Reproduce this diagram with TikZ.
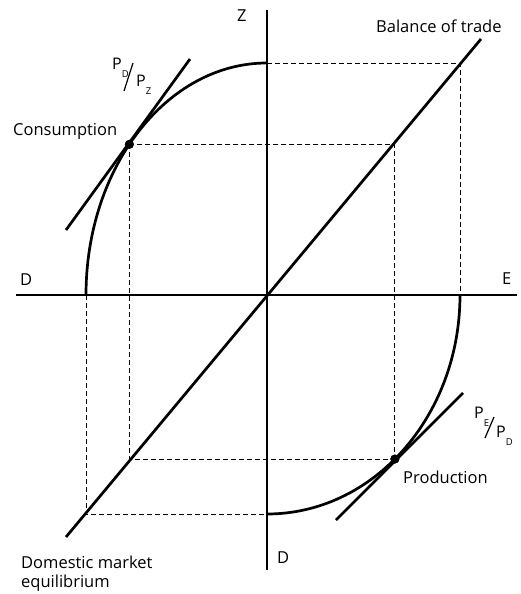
\documentclass[tikz,border=0pt]{standalone}
\usepackage{fontspec}
\setmainfont{Open Sans}
\newcommand\fsub[1]{\raisebox{-8pt}{\fontsize{9.5}{11}\selectfont #1}}
\begin{document}
\begin{tikzpicture}[x=1pt,y=1pt,
  axis/.style={line width=1.2pt},
  curve/.style={line width=2.7pt},
  guide/.style={line width=0.9pt, dash pattern=on 5pt off 3pt},
  lbl/.style={inner sep=0pt, font=\fontsize{16.5}{19}\selectfont},
  frac/.style={inner sep=0pt, font=\fontsize{16}{18}\selectfont},
  slash/.style={line width=1.2pt},
  dot/.style={circle, fill=black, inner sep=0pt, minimum size=9pt}]
\useasboundingbox (-267,-299) rectangle (254,295);
% key points
\coordinate (O) at (0,0);
\coordinate (ZT) at (0,285);
\coordinate (ZB) at (0,-275);
\coordinate (AL) at (-251,0);
\coordinate (AR) at (250,0);
\coordinate (CT) at (0,232);
\coordinate (CL) at (-181,0);
\coordinate (PR) at (193,0);
\coordinate (PB) at (0,-219);
\coordinate (Q1) at (193,232);
\coordinate (B1) at (-201,-242);
\coordinate (B2) at (214,256);
\coordinate (t1a) at (-201,65);
\coordinate (t1b) at (-77,236);
\coordinate (t2a) at (69,-225);
\coordinate (t2b) at (196,-98);
\coordinate (s1a) at (-143,204);
\coordinate (s1b) at (-134,232);
\coordinate (s2a) at (218,-143);
\coordinate (s2b) at (227,-122);
\node[dot] (C) at (139.5:181pt and 232pt) {};
\node[dot] (P) at (-48.5:193pt and 219pt) {};
% dashed guides
\draw[guide] (CT) -- (Q1) -- (PR);
\draw[guide] (C.center) -- (C.center -| P.center) -- (P.center);
\draw[guide] (C.center) -- (C.center |- P.center) -- (P.center);
\draw[guide] (CL) -- (CL |- PB) -- (PB);
% axes
\draw[axis] (ZT) -- (ZB);
\draw[axis] (AL) -- (AR);
% curves and lines
\draw[curve] (CT) arc[start angle=90, end angle=180, x radius=181pt, y radius=232pt];
\draw[curve] (PR) arc[start angle=0, end angle=-90, x radius=193pt, y radius=219pt];
\draw[curve] (B1) -- (B2);
\draw[curve] (t1a) -- (t1b);
\draw[curve] (t2a) -- (t2b);
\node[dot] at (C.center) {};
\node[dot] at (P.center) {};
% labels
\node[lbl, anchor=base west] (zl) at (-30,273) {Z};
\node[lbl, anchor=base west] (bt) at (109,262) {Balance of trade};
\node[lbl, anchor=base west] (cons) at (-254,159) {Consumption};
\node[lbl, anchor=base west] (dl) at (-247,9) {D};
\node[lbl, anchor=base west] (el) at (235,10) {E};
\node[lbl, anchor=base west] (db) at (10,-268) {D};
\node[lbl, anchor=base west] (prod) at (136,-188) {Production};
\node[lbl, anchor=base west] (dme1) at (-246,-273) {Domestic market};
\node[lbl, anchor=base west] (dme2) at (-246,-292) {equilibrium};
% price ratios
\node[frac, anchor=base west] (f1a) at (-155,225) {P\fsub{D}};
\node[frac, anchor=base west] (f1b) at (-131,208) {P\fsub{Z}};
\draw[slash] (s1a) -- (s1b);
\node[frac, anchor=base west] (f2a) at (207,-123) {P\fsub{E}};
\node[frac, anchor=base west] (f2b) at (229,-142) {P\fsub{D}};
\draw[slash] (s2a) -- (s2b);
\end{tikzpicture}
\end{document}
